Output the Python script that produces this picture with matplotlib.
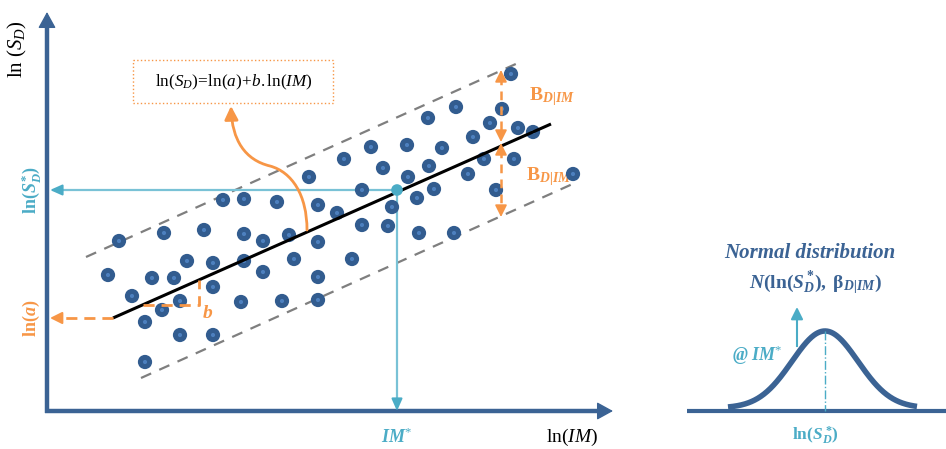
import numpy as np
import matplotlib
matplotlib.use("Agg")
import matplotlib.pyplot as plt
from matplotlib.patches import FancyArrowPatch, Rectangle
from matplotlib.path import Path

plt.rcParams['mathtext.fontset'] = 'custom'
plt.rcParams['mathtext.rm'] = 'Liberation Serif'
plt.rcParams['mathtext.it'] = 'Liberation Serif:italic'
plt.rcParams['mathtext.bf'] = 'Liberation Serif:bold'
plt.rcParams['mathtext.bfit'] = 'Liberation Serif:bold:italic'
plt.rcParams['font.family'] = ['Liberation Serif', 'DejaVu Serif']

# ---------------- data (schematic units: x = ln(IM), y = ln(S_D)) ----------------
dot_x = [511, 456, 428, 502, 490, 518, 533, 473, 442, 407, 371, 344, 383, 429, 484,
         514, 468, 573, 309, 362, 434, 496, 408, 417, 318, 337, 392, 362, 388, 419,
         454, 223, 244, 277, 119, 164, 204, 244, 263, 289, 318, 187, 213, 244, 294,
         352, 108, 152, 174, 263, 318, 213, 132, 180, 162, 241, 282, 318, 145, 180,
         213, 145]
dot_y = [74, 107, 118, 109, 123, 128, 132, 137, 148, 145, 147, 159, 168, 166, 159,
         159, 174, 174, 177, 190, 189, 190, 177, 198, 205, 213, 207, 225, 226, 233,
         233, 200, 199, 202, 241, 233, 230, 234, 241, 235, 242, 261, 263, 261, 259,
         259, 275, 278, 278, 272, 277, 287, 296, 301, 310, 302, 301, 300, 322, 335,
         335, 362]

fit_x = [113, 551]
fit_y = [318, 124]
upper_x = [86, 518]
upper_y = [257, 63]
lower_x = [141, 577]
lower_y = [378, 182]

im_star = 397
sd_star = 190

bell_mean = 825
bell_sigma = 33
bell_base = 408
bell_peak = 331
bell_x0, bell_x1 = 728, 917

# ---------------- colours ----------------
AXIS = '#3b6394'
DOT = '#325c8f'
DOT_IN = '#4d80bf'
CYAN = '#4bacc6'
CYAN_L = '#79c2d6'
ORANGE = '#f79646'
GRAY = '#7f7f7f'

BIG = 'simple,head_length=1.2,head_width=1.3,tail_width=0.001'


def head(x0, y0, x1, y1, color, lw=1.5, ms=8, hl=0.9, hw=0.4, z=6):
    ax.annotate('', xy=(x1, y1), xytext=(x0, y0),
                arrowprops=dict(arrowstyle=f'-|>,head_length={hl},head_width={hw}', color=color, lw=lw,
                                shrinkA=0, shrinkB=0, mutation_scale=ms), zorder=z)


fig = plt.figure(figsize=(9.46, 4.49), dpi=100)
ax = fig.add_axes([0, 0, 1, 1])
ax.set_xlim(0, 946)
ax.set_ylim(449, 0)
ax.axis('off')

# axes arrows
ax.plot([47, 47], [413, 22], color=AXIS, lw=3.2, solid_capstyle='butt')
ax.plot([45, 602], [411, 411], color=AXIS, lw=3.2, solid_capstyle='butt')
head(47, 30, 47, 12, AXIS, lw=1, ms=10, hl=1.0, hw=0.55)
head(595, 411, 613, 411, AXIS, lw=1, ms=10, hl=1.0, hw=0.55)

# band dashed lines
ax.plot(upper_x, upper_y, color=GRAY, lw=1.6, dashes=(5, 4), zorder=2)
ax.plot(lower_x, lower_y, color=GRAY, lw=1.6, dashes=(5, 4), zorder=2)

# cyan guide lines
ax.plot([im_star, 58], [sd_star, sd_star], color=CYAN_L, lw=1.6, zorder=3)
head(60, sd_star, 50, sd_star, CYAN, ms=8, z=3)
ax.plot([im_star, im_star], [sd_star, 403], color=CYAN_L, lw=1.6, zorder=3)
head(im_star, 400, im_star, 411, CYAN, ms=8, z=3)

# dots
ax.scatter(dot_x, dot_y, s=105, color=DOT, edgecolors='none', zorder=4)
ax.scatter(dot_x, dot_y, s=9, color=DOT_IN, edgecolors='none', zorder=5)

# regression line
ax.plot(fit_x, fit_y, color='black', lw=2.2, zorder=6, solid_capstyle='butt')

# cyan point
ax.scatter([im_star], [sd_star], s=70, color=CYAN, edgecolors='none', zorder=7)

# orange ln(a) dashed arrow
ax.plot([fit_x[0], 58], [fit_y[0], fit_y[0]], color=ORANGE, lw=2, dashes=(4, 2.5), zorder=6)
head(60, fit_y[0], 50, fit_y[0], ORANGE, ms=8, hw=0.45)

# slope triangle
ax.plot([143, 199, 199], [305, 305, 280], color=ORANGE, lw=2, dashes=(4, 2.5), zorder=6)
ax.text(208, 313, r'$\mathbfit{b}$', color=ORANGE, fontsize=14, ha='center', va='center', zorder=8)

# B_D|IM double arrows
for (y0, y1) in [(70, 142), (143, 217)]:
    ax.plot([501, 501], [y0 + 6, y1 - 6], color=ORANGE, lw=1.8, dashes=(3.5, 2.5), zorder=8)
    head(501, y0 + 9, 501, y0, ORANGE, lw=1.2, ms=8, hw=0.45, z=8)
    head(501, y1 - 9, 501, y1, ORANGE, lw=1.2, ms=8, hw=0.45, z=8)
ax.text(529, 97, r'$\mathbf{B}_{\mathbfit{D|IM}}$', color=ORANGE, fontsize=14, ha='left', va='center')
ax.text(526, 177, r'$\mathbf{B}_{\mathbfit{D|IM}}$', color=ORANGE, fontsize=14, ha='left', va='center')

# equation box
ax.add_patch(Rectangle((133, 60), 200, 43, fill=False, edgecolor=ORANGE, lw=1.0, linestyle=':', zorder=8))
ax.text(234, 82, r'$\mathrm{ln}(S_D)\!=\!\mathrm{ln}(a)\!+\!b.\mathrm{ln}(IM)$', fontsize=12.3,
        ha='center', va='center', color='black', zorder=9)

# curved orange arrow
verts = [(307, 230), (307, 195), (292, 172), (270, 166),
         (245, 160), (232, 140), (231, 106)]
codes = [Path.MOVETO, Path.CURVE4, Path.CURVE4, Path.CURVE4, Path.CURVE4, Path.CURVE4, Path.CURVE4]
curve = FancyArrowPatch(path=Path(verts, codes), arrowstyle='-|>,head_length=0.9,head_width=0.45',
                        color=ORANGE, lw=2, mutation_scale=9, zorder=8)
ax.add_patch(curve)

# axis labels
ax.text(17, 49, r'$\mathrm{ln}\ (S_D)$', fontsize=15, rotation=90, ha='center', va='center', color='black')
ax.text(31, 190, r'$\mathbf{ln(}\mathbfit{S}_{\mathbfit{D}}^{\,\mathbf{*}}\mathbf{)}$', fontsize=13,
        rotation=90, ha='center', va='center', color=CYAN)
ax.text(31, 318, r'$\mathbf{ln(}\mathbfit{a}\mathbf{)}$', fontsize=13, rotation=90,
        ha='center', va='center', color=ORANGE)
ax.text(im_star, 437, r'$\mathbfit{IM}^{*}$', fontsize=13, ha='center', va='center', color=CYAN)
ax.text(572, 437, r'$\mathrm{ln}(IM)$', fontsize=14, ha='center', va='center', color='black')

# ---------------- right panel: normal distribution ----------------
ax.plot([687, 946], [411, 411], color=AXIS, lw=3, solid_capstyle='butt')
bx = np.linspace(bell_x0, bell_x1, 300)
by = bell_base - (bell_base - bell_peak) * np.exp(-0.5 * ((bx - bell_mean) / bell_sigma) ** 2)
ax.plot(bx, by, color=AXIS, lw=4, solid_capstyle='butt')
ax.plot([bell_mean, bell_mean], [bell_peak, 411], color=CYAN, lw=1, linestyle='-.')
ax.plot([797, 797], [346, 314], color=CYAN, lw=1.5)
head(797, 318, 797, 307, CYAN, ms=8, hw=0.45)
ax.text(732, 355, r'$\mathbfit{@\ IM}^{*}$', fontsize=13, ha='left', va='center', color=CYAN)
ax.text(810, 253, 'Normal distribution', fontsize=15, fontweight='bold', fontstyle='italic',
        ha='center', va='center', color=AXIS)
ax.text(815, 283, r'$\mathbfit{N}\mathbf{(ln(}\mathbfit{S}_{\mathbfit{D}}^{\ \mathbf{*}}\mathbf{),\ \beta}_{\mathbfit{D|IM}}\mathbf{)}$',
        fontsize=14, ha='center', va='center', color=AXIS)
ax.text(815, 436, r'$\mathbf{ln(}\mathbfit{S}_{\mathbfit{D}}^{\ \mathbf{*}}\mathbf{)}$', fontsize=12.5,
        ha='center', va='center', color=CYAN)

fig.savefig('out.png', dpi=100)
